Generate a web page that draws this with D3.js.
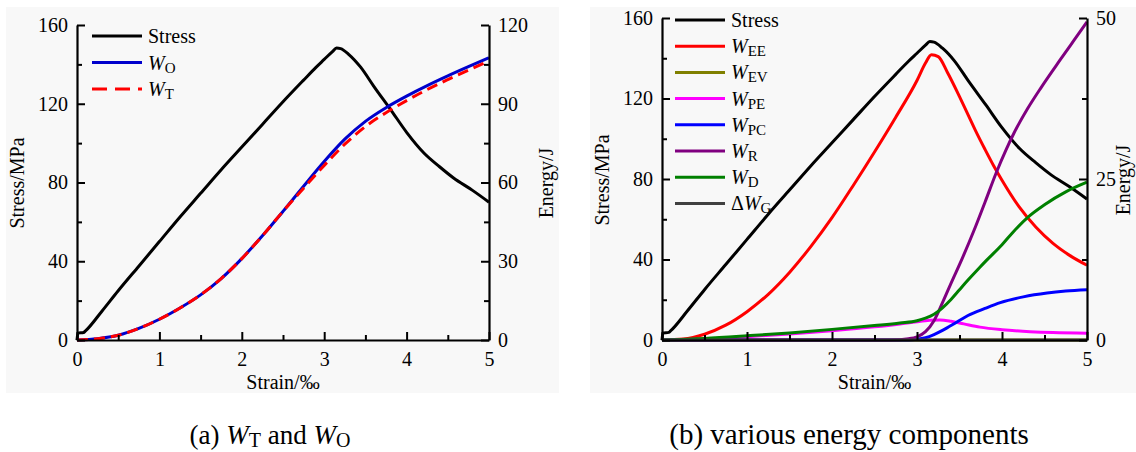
<!DOCTYPE html>
<html><head><meta charset="utf-8">
<script src="https://cdn.jsdelivr.net/npm/d3@7"></script>
<style>
body{margin:0;background:#fff}
text{font-family:"Liberation Serif","Times New Roman",serif;fill:#000}
</style>
</head><body>
<svg id="c" width="1136" height="452"></svg>
<script>
// ---------- data (strain ‰, value) ----------
const strainTicks = [0,1,2,3,4,5];
const strainMinor = [0.5,1.5,2.5,3.5,4.5];
const stressTicks = [0,40,80,120,160];
const stressMinor = [20,60,100,140];
const energyTicksA = [0,30,60,90,120];
const energyMinorA = [15,45,75,105];
const energyTicksB = [0,25,50];
const energyMinorB = [12.5,37.5];

const stress = [[0,0],[0.01,3.5],[0.08,3.8],[0.1,4.5],[0.3,14.5],[0.5,25],[0.75,37.5],[1.0,50],[1.25,62.5],[1.5,74.5],[1.75,86.5],[2.0,98],[2.25,109.5],[2.5,121],[2.75,132],[2.9,138.5],[3.0,142.5],[3.1,146.5],[3.15,148.3],[3.2,148],[3.3,145],[3.44,138.7],[3.6,129],[3.81,116.8],[4.0,105.5],[4.21,95],[4.4,88],[4.57,82.3],[4.8,76],[5.0,70]];

const wO = [[0,0],[0.25,0.5],[0.5,1.8],[0.75,4.4],[1,7.9],[1.25,12.2],[1.5,17.2],[1.75,23.4],[2,31],[2.25,39.7],[2.5,49],[2.75,58.6],[3,68],[3.25,76.5],[3.5,83.3],[3.75,88.5],[4,92.9],[4.25,96.9],[4.5,100.6],[4.75,104.1],[5,107.5]];
const wT = [[0,0],[0.25,0.5],[0.5,1.8],[0.75,4.4],[1,7.9],[1.25,12.2],[1.5,17.2],[1.75,23.4],[2,31],[2.25,39.7],[2.5,49],[2.75,57.8],[3,66.5],[3.25,74.6],[3.5,81.3],[3.75,86.6],[4,91.2],[4.25,95.4],[4.5,99.2],[4.75,102.8],[5,106.3]];

const wEE = [[0,0],[0.25,0.15],[0.5,0.9],[0.75,2.3],[1,4.4],[1.25,7.1],[1.5,10.5],[1.75,14.5],[2,19],[2.25,24],[2.5,29.2],[2.75,34.6],[3,40.3],[3.1,43],[3.17,44.3],[3.25,44],[3.36,41.5],[3.5,37.8],[3.6,35.0],[3.7,32.2],[3.8,29.6],[3.9,27.1],[4.0,24.8],[4.2,20.7],[4.4,17.5],[4.6,15.0],[4.8,13.1],[5,11.6]];
const wEV = [[0,0],[2.5,0],[5,0]];
const wPE = [[0,0],[0.5,0.15],[1,0.5],[1.5,0.95],[2,1.45],[2.5,2.05],[2.8,2.5],[3,2.85],[3.15,3.05],[3.27,3.1],[3.4,2.9],[3.55,2.5],[3.74,2.0],[4,1.6],[4.33,1.3],[4.6,1.15],[5,1.05]];
const wPC = [[0,0],[2.9,0],[3,0.1],[3.1,0.35],[3.2,0.85],[3.3,1.5],[3.47,2.8],[3.6,3.8],[3.8,4.9],[3.98,5.8],[4.25,6.7],[4.53,7.3],[4.75,7.6],[5,7.8]];
const wR = [[0,0],[2.7,0],[2.9,0.2],[3,0.5],[3.1,1.3],[3.2,3.0],[3.3,5.8],[3.4,8.8],[3.53,12.6],[3.67,17],[3.8,21.4],[3.93,25.9],[4.05,29.6],[4.14,32.1],[4.3,35.9],[4.46,39.2],[4.69,43.6],[4.85,46.6],[5,49.4]];
const wD = [[0,0],[0.5,0.25],[1,0.65],[1.5,1.1],[2,1.65],[2.5,2.25],[2.8,2.65],[3,3.0],[3.1,3.4],[3.2,4.0],[3.3,5.0],[3.4,6.3],[3.5,7.8],[3.6,9.3],[3.74,11.3],[3.82,12.4],[4,14.8],[4.14,16.9],[4.29,18.9],[4.5,21],[4.75,23],[5,24.5]];
const dWG = [[0,0],[2.5,0],[5,0]];

// ---------- drawing ----------
const svg = d3.select("#c");

function richText(sel, parts, subSize, subDy) {
  let prevSub = false;
  parts.forEach(p => {
    const t = sel.append("tspan").text(p.t);
    if (p.it) t.attr("font-style","italic");
    if (p.sub) { t.attr("font-size", subSize); t.attr("dy", prevSub ? 0 : subDy); }
    else if (prevSub) t.attr("dy", -subDy);
    prevSub = !!p.sub;
  });
}

function drawPanel(p) {
  const g = svg.append("g");
  g.append("rect").attr("x",p.bg[0]).attr("y",p.bg[1]).attr("width",p.bg[2]).attr("height",p.bg[3]).attr("fill","#f8f8f8");
  const x = d3.scaleLinear().domain([0,5]).range([p.x0,p.x1]);
  const yL = d3.scaleLinear().domain([0,160]).range([340,p.yTop]);
  const yR = d3.scaleLinear().domain([0,p.rMax]).range([340,p.yTop]);

  p.series.forEach(s => {
    const sc = s.axis === "L" ? yL : yR;
    g.append("path").datum(s.data)
      .attr("d", d3.line().x(d=>x(d[0])).y(d=>sc(d[1])).curve(d3.curveMonotoneX))
      .attr("fill","none").attr("stroke",s.color).attr("stroke-width",3)
      .attr("stroke-dasharray", s.dash || null);
  });

  const fs = 20;
  function styleAxis(a){
    a.select(".domain").attr("stroke","#000").attr("stroke-width",2.2);
    a.selectAll(".tick line").attr("stroke","#000").attr("stroke-width",2);
    a.selectAll("text").attr("font-size",fs).attr("font-family",'"Liberation Serif","Times New Roman",serif').attr("fill","#000");
  }
  const ax = g.append("g").attr("transform",`translate(0,340)`)
    .call(d3.axisBottom(x).tickValues(strainTicks).tickFormat(d3.format("d")).tickSize(-8).tickSizeOuter(0).tickPadding(12));
  styleAxis(ax);
  const axm = g.append("g").attr("transform",`translate(0,340)`)
    .call(d3.axisBottom(x).tickValues(strainMinor).tickFormat("").tickSize(-5).tickSizeOuter(0));
  styleAxis(axm); axm.select(".domain").remove();

  const al = g.append("g").attr("transform",`translate(${p.x0},0)`)
    .call(d3.axisLeft(yL).tickValues(stressTicks).tickSize(-8).tickSizeOuter(0).tickPadding(9));
  styleAxis(al);
  const alm = g.append("g").attr("transform",`translate(${p.x0},0)`)
    .call(d3.axisLeft(yL).tickValues(stressMinor).tickFormat("").tickSize(-5).tickSizeOuter(0));
  styleAxis(alm); alm.select(".domain").remove();

  const ar = g.append("g").attr("transform",`translate(${p.x1},0)`)
    .call(d3.axisRight(yR).tickValues(p.rTicks).tickSize(-8).tickSizeOuter(0).tickPadding(9));
  styleAxis(ar);
  const arm = g.append("g").attr("transform",`translate(${p.x1},0)`)
    .call(d3.axisRight(yR).tickValues(p.rMinor).tickFormat("").tickSize(-5).tickSizeOuter(0));
  styleAxis(arm); arm.select(".domain").remove();

  g.append("text").attr("x",(p.x0+p.x1)/2).attr("y",389).attr("text-anchor","middle").attr("font-size",fs).text("Strain/‰");
  g.append("text").attr("transform",`translate(${p.lTitleX},${p.titleY}) rotate(-90)`).attr("text-anchor","middle").attr("font-size",fs).text("Stress/MPa");
  g.append("text").attr("transform",`translate(${p.rTitleX},${p.titleY}) rotate(-90)`).attr("text-anchor","middle").attr("font-size",fs).text("Energy/J");

  p.legend.forEach((L,i) => {
    const yy = p.legY + i*p.legStep;
    g.append("line").attr("x1",p.legX).attr("x2",p.legX+50).attr("y1",yy).attr("y2",yy)
      .attr("stroke",L.color).attr("stroke-width",3).attr("stroke-dasharray",L.dash||null);
    const t = g.append("text").attr("x",p.legX+56).attr("y",yy+7).attr("font-size",fs);
    richText(t, L.parts, 15, 3);
  });

  const c = g.append("text").attr("x",p.capX).attr("y",444).attr("text-anchor","middle").attr("font-size",p.capSize);
  richText(c, p.caption, 20, 3);
}

drawPanel({
  bg:[6,7,553,386], x0:77, x1:489, yTop:25, rMax:120, rTicks:energyTicksA, rMinor:energyMinorA,
  lTitleX:24, rTitleX:553, titleY:183,
  series:[
    {data:stress, axis:"L", color:"#000"},
    {data:wO, axis:"R", color:"#0000cc"},
    {data:wT, axis:"R", color:"#ff0000", dash:"11,6"}
  ],
  legX:92, legY:36, legStep:26.5,
  legend:[
    {color:"#000", parts:[{t:"Stress"}]},
    {color:"#0000cc", parts:[{t:"W",it:true},{t:"O",sub:true}]},
    {color:"#ff0000", dash:"15,8", parts:[{t:"W",it:true},{t:"T",sub:true}]}
  ],
  capX:270, capSize:27,
  caption:[{t:"(a) "},{t:"W",it:true},{t:"T",sub:true},{t:" and "},{t:"W",it:true},{t:"O",sub:true}]
});

drawPanel({
  bg:[590,7,560,386], x0:662, x1:1087, yTop:18, rMax:50, rTicks:energyTicksB, rMinor:energyMinorB,
  lTitleX:609, rTitleX:1130, titleY:180,
  series:[
    {data:stress, axis:"L", color:"#000"},
    {data:wEE, axis:"R", color:"#ff0000"},
    {data:wEV, axis:"R", color:"#808000"},
    {data:wPE, axis:"R", color:"#ff00ff"},
    {data:wPC, axis:"R", color:"#0000ff"},
    {data:wR, axis:"R", color:"#800080"},
    {data:wD, axis:"R", color:"#008000"},
    {data:dWG, axis:"R", color:"#404040"}
  ],
  legX:675, legY:20, legStep:26.2,
  legend:[
    {color:"#000", parts:[{t:"Stress"}]},
    {color:"#ff0000", parts:[{t:"W",it:true},{t:"EE",sub:true}]},
    {color:"#808000", parts:[{t:"W",it:true},{t:"EV",sub:true}]},
    {color:"#ff00ff", parts:[{t:"W",it:true},{t:"PE",sub:true}]},
    {color:"#0000ff", parts:[{t:"W",it:true},{t:"PC",sub:true}]},
    {color:"#800080", parts:[{t:"W",it:true},{t:"R",sub:true}]},
    {color:"#008000", parts:[{t:"W",it:true},{t:"D",sub:true}]},
    {color:"#404040", parts:[{t:"Δ"},{t:"W",it:true},{t:"G",sub:true}]}
  ],
  capX:849, capSize:29,
  caption:[{t:"(b) various energy components"}]
});
</script>
</body></html>
